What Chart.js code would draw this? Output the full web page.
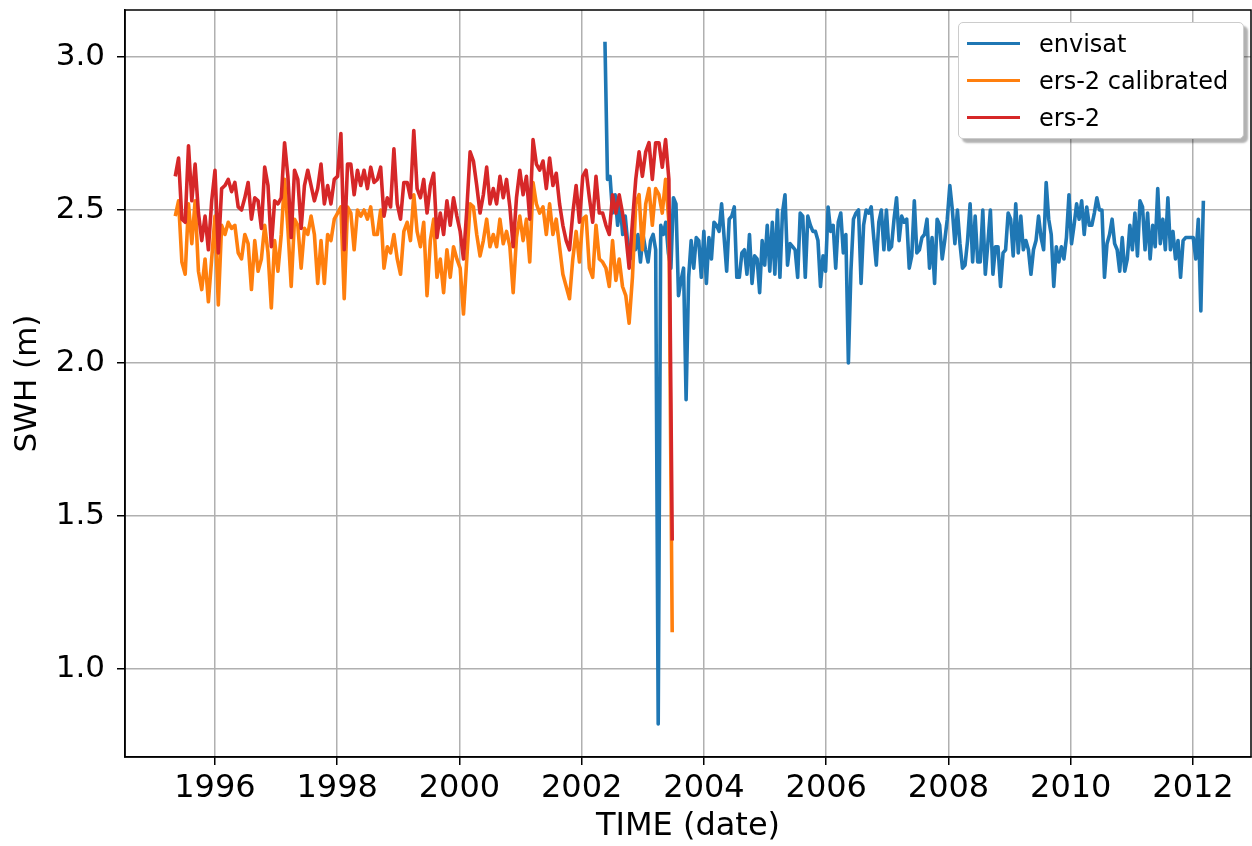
<!DOCTYPE html>
<html>
<head>
<meta charset="utf-8">
<script src="https://cdn.jsdelivr.net/npm/chart.js@4/dist/chart.umd.min.js"></script>
<style>
  body { margin: 0; background: #fff; }
  #wrap { position: relative; width: 1252px; height: 846px; }
  #legend {
    position: absolute; left: 958px; top: 22px; width: 286px; height: 117px;
    box-sizing: border-box; padding-top: 2px;
    background: #fff; border: 1px solid #cccccc; border-radius: 5px;
    box-shadow: 4px 4px 2px rgba(0, 0, 0, 0.3);
    font-family: "DejaVu Sans", sans-serif; font-size: 24px; color: #000;
  }
  .row { display: flex; align-items: center; height: 37px; }
  .swatch { width: 53px; height: 3px; margin-left: 8px; margin-right: 19px; }
</style>
</head>
<body>
<div id="wrap">
  <canvas id="myChart" width="1252" height="846"></canvas>
  <div id="legend"></div>
</div>
<script>
// sampling of the two missions (decimal years)
const ers2Start = 1995.35;
const ers2End = 2003.48;
const envisatStart = 2002.38;
const envisatEnd = 2012.17;

const xTicks = [1996, 1998, 2000, 2002, 2004, 2006, 2008, 2010, 2012];
const yTicks = [1.0, 1.5, 2.0, 2.5, 3.0];

const ers2 = [
  2.61,2.67,2.47,2.46,2.71,2.53,2.65,2.49,2.40,2.48,
  2.37,2.53,2.63,2.36,2.57,2.58,2.60,2.56,2.59,2.51,
  2.50,2.54,2.59,2.47,2.54,2.53,2.44,2.64,2.58,2.38,
  2.53,2.52,2.54,2.72,2.61,2.41,2.63,2.60,2.44,2.58,
  2.63,2.58,2.53,2.57,2.65,2.52,2.58,2.52,2.60,2.61,
  2.75,2.37,2.65,2.65,2.55,2.63,2.58,2.63,2.57,2.64,
  2.59,
  2.60,2.64,2.48,2.54,2.51,2.70,2.52,2.47,2.59,2.59,
  2.54,2.76,2.57,2.54,2.60,2.49,2.58,2.62,2.41,2.49,
  2.42,2.53,2.45,2.54,2.48,2.43,2.34,2.50,2.69,2.66,
  2.58,2.49,2.55,2.64,2.52,2.57,2.52,2.61,2.54,2.60,
  2.51,2.38,2.54,2.63,2.55,2.61,2.47,2.73,2.65,2.63,
  2.66,2.57,2.67,2.58,2.62,2.52,2.45,2.40,2.37,2.49,
  2.58,2.46,2.61,2.63,
  2.54,2.46,2.61,2.49,2.49,2.45,2.42,2.55,2.49,2.55,
  2.49,2.42,2.31,2.46,2.60,2.69,2.61,2.69,2.72,2.60,
  2.72,2.72,2.64,2.73,2.60,1.42
];

const ers2Calibrated = [
  2.48,2.53,2.33,2.29,2.52,2.39,2.53,2.30,2.24,2.34,
  2.20,2.34,2.48,2.19,2.45,2.42,2.46,2.44,2.45,2.36,
  2.34,2.42,2.39,2.24,2.40,2.30,2.34,2.45,2.36,2.18,
  2.40,2.30,2.42,2.60,2.44,2.25,2.47,2.45,2.31,2.44,
  2.42,2.48,2.42,2.26,2.40,2.26,2.42,2.40,2.47,2.49,
  2.51,2.21,2.51,2.49,2.37,2.50,2.48,2.50,2.47,2.51,
  2.42,
  2.42,2.50,2.31,2.38,2.36,2.42,2.34,2.29,2.43,2.46,
  2.40,2.55,2.43,2.38,2.46,2.22,2.40,2.47,2.28,2.34,
  2.23,2.37,2.28,2.38,2.34,2.31,2.16,2.34,2.52,2.51,
  2.42,2.35,2.40,2.47,2.38,2.42,2.38,2.47,2.39,2.43,
  2.38,2.23,2.41,2.48,2.40,2.47,2.33,2.59,2.52,2.49,
  2.51,2.42,2.52,2.42,2.47,2.38,2.29,2.25,2.21,2.34,
  2.43,2.33,2.47,2.48,
  2.31,2.28,2.45,2.34,2.33,2.31,2.25,2.40,2.27,2.34,
  2.25,2.22,2.13,2.28,2.52,2.55,2.37,2.52,2.57,2.45,
  2.57,2.55,2.49,2.60,2.46,1.12
];

const envisat = [
  3.05,2.60,2.61,2.49,2.55,2.45,2.52,2.42,2.48,2.39,
  2.34,2.43,2.37,2.42,2.33,2.42,2.37,2.33,2.40,2.42,
  2.37,0.82,2.45,2.42,2.46,2.36,2.31,2.54,2.52,2.22,
  2.27,2.31,1.88,
  2.28,2.40,2.31,2.41,2.40,2.28,2.43,2.26,2.41,2.34,
  2.46,2.45,2.43,2.52,2.41,2.30,2.47,2.48,2.51,2.28,
  2.28,2.36,2.37,2.29,2.42,2.26,2.35,2.34,2.23,2.40,
  2.32,2.45,2.30,2.46,2.29,2.50,2.28,2.49,2.55,2.32,
  2.39,2.38,2.37,2.28,2.49,2.48,2.28,2.48,2.45,2.43,
  2.43,2.40,2.25,2.35,2.30,2.51,2.43,2.45,2.31,2.46,
  2.49,2.36,2.42,2.00,2.30,2.47,2.49,2.50,2.26,2.45,
  2.50,2.49,2.51,2.41,2.32,2.46,2.50,2.37,2.50,2.37,
  2.38,2.47,2.54,2.40,2.48,2.46,2.47,2.31,2.35,2.53,
  2.36,2.37,2.41,2.42,2.47,2.31,2.41,2.26,2.47,2.45,
  2.34,2.40,2.47,2.58,2.50,2.39,2.50,2.39,2.31,
  2.32,2.40,2.52,2.33,2.48,2.33,2.33,2.50,2.29,2.39,
  2.50,2.29,2.38,2.38,2.25,2.36,2.37,2.49,2.47,2.35,
  2.52,2.36,2.48,2.37,2.40,2.37,2.29,2.37,2.40,2.48,
  2.41,2.37,2.59,2.47,2.42,2.25,2.38,2.33,2.38,2.34,
  2.41,2.55,2.39,2.45,2.52,2.47,2.53,2.42,2.51,2.45,
  2.45,2.49,2.54,2.50,2.50,2.28,2.39,2.42,2.47,2.39,
  2.37,2.30,2.41,2.30,2.34,2.45,2.37,2.49,2.35,2.53,
  2.51,2.37,2.49,2.34,2.45,2.38,2.57,2.39,2.47,2.37,
  2.54,2.37,2.43,2.34,2.40,2.28,2.40,2.41,2.41,2.41,
  2.41,2.34,2.47,2.17,2.53
];

function toPoints(vals, start, end) {
  let step = (end - start) / (vals.length - 1);
  let pts = [];
  for (let i = 0; i < vals.length; i++) {
    pts.push({ x: start + i * step, y: vals[i] });
  }
  return pts;
}

const font = "DejaVu Sans";

// matplotlib style frame on all four sides
const frame = {
  id: "frame",
  afterDraw(chart) {
    const a = chart.chartArea;
    const c = chart.ctx;
    c.save();
    c.strokeStyle = "#000";
    c.lineWidth = 1.5;
    c.strokeRect(a.left, a.top, a.right - a.left, a.bottom - a.top);
    c.restore();
  }
};

const ctx = document.getElementById("myChart");

let ch = new Chart(ctx, {
  type: "line",
  data: {
    datasets: [
      {
        label: "envisat",
        data: toPoints(envisat, envisatStart, envisatEnd),
        borderColor: "#1f77b4",
        order: 3,
      },
      {
        label: "ers-2 calibrated",
        data: toPoints(ers2Calibrated, ers2Start, ers2End),
        borderColor: "#ff7f0e",
        order: 2,
      },
      {
        label: "ers-2",
        data: toPoints(ers2, ers2Start, ers2End),
        borderColor: "#d62728",
        order: 1,
      },
    ],
  },
  options: {
    responsive: false,
    animation: false,
    devicePixelRatio: 1,
    layout: { padding: { top: 10, right: 1, left: 0, bottom: 0 } },
    elements: {
      point: { radius: 0 },
      line: { borderWidth: 3.6, tension: 0, fill: false, borderJoinStyle: "round" },
    },
    plugins: {
      legend: { display: false },
      tooltip: { enabled: false },
    },
    scales: {
      x: {
        type: "linear",
        min: 1994.528,
        max: 2012.949,
        afterBuildTicks: (s) => { s.ticks = xTicks.map((v) => ({ value: v })); },
        afterFit: (s) => { s.height = 89; s.paddingLeft = 0; s.paddingRight = 0; },
        ticks: {
          color: "#000",
          padding: 4,
          maxRotation: 0,
          font: { family: font, size: 32 },
          callback: (v) => String(v),
        },
        grid: { color: "#b0b0b0", lineWidth: 1.5, tickColor: "#000", tickLength: 8 },
        border: { color: "#000", width: 1.5 },
        title: {
          display: true,
          text: "TIME (date)",
          color: "#000",
          padding: 0,
          font: { family: font, size: 32 },
        },
      },
      y: {
        min: 0.7124,
        max: 3.1536,
        afterBuildTicks: (s) => { s.ticks = yTicks.map((v) => ({ value: v })); },
        afterFit: (s) => { s.width = 125; s.paddingTop = 0; s.paddingBottom = 0; },
        ticks: {
          color: "#000",
          padding: 12,
          font: { family: font, size: 31 },
          callback: (v) => v.toFixed(1),
        },
        grid: { color: "#b0b0b0", lineWidth: 1.5, tickColor: "#000", tickLength: 8 },
        border: { color: "#000", width: 1.5 },
        title: {
          display: true,
          text: "SWH (m)",
          color: "#000",
          padding: { top: 9, bottom: 0 },
          font: { family: font, size: 31 },
        },
      },
    },
  },
  plugins: [frame],
});

// legend box drawn as html, in dataset order
const legend = document.getElementById("legend");
ch.data.datasets.forEach((d) => {
  let row = document.createElement("div");
  row.className = "row";
  let sw = document.createElement("div");
  sw.className = "swatch";
  sw.style.background = d.borderColor;
  let label = document.createElement("span");
  label.textContent = d.label;
  row.appendChild(sw);
  row.appendChild(label);
  legend.appendChild(row);
});
</script>
</body>
</html>
